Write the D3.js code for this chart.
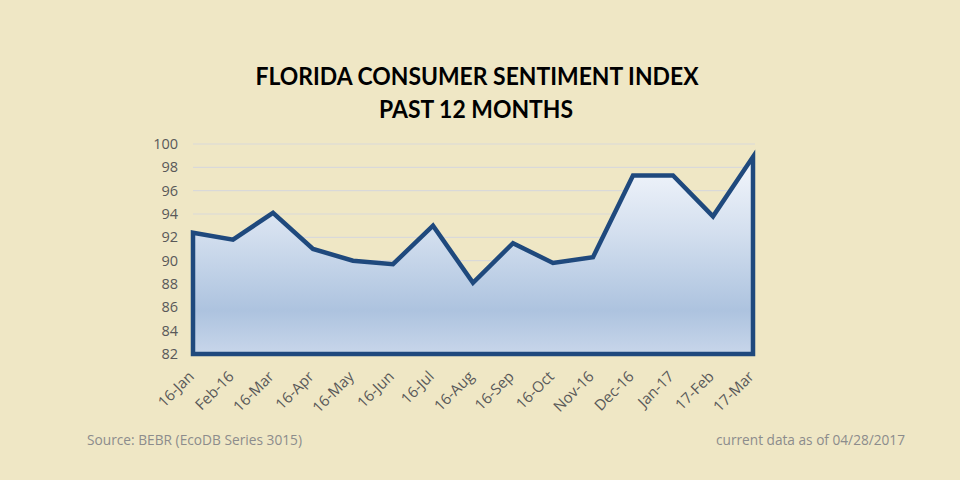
<!DOCTYPE html>
<html>
<head>
<meta charset="utf-8">
<script src="https://cdn.jsdelivr.net/npm/d3@7"></script>
<style>
html,body{margin:0;padding:0;background:#EFE7C5;}
svg{display:block;}
</style>
</head>
<body>
<svg id="chart" width="960" height="480"></svg>
<script>
const months = ["16-Jan","Feb-16","16-Mar","16-Apr","16-May","16-Jun","16-Jul","16-Aug","16-Sep","16-Oct","Nov-16","Dec-16","Jan-17","17-Feb","17-Mar"];
const sentiment = [92.4, 91.8, 94.1, 91.0, 90.0, 89.7, 93.0, 88.1, 91.5, 89.8, 90.3, 97.3, 97.3, 93.8, 98.9];
const yTicks = [82, 84, 86, 88, 90, 92, 94, 96, 98, 100];
const titleLines = ["FLORIDA CONSUMER SENTIMENT INDEX", "PAST 12 MONTHS"];
const sourceText = "Source: BEBR (EcoDB Series 3015)";
const asOfText = "current data as of 04/28/2017";

const svg = d3.select("#chart");
const W = 960, H = 480;
svg.append("rect").attr("width", W).attr("height", H).attr("fill", "#EFE7C5");

const x = d3.scalePoint().domain(months).range([193, 753]);
const y = d3.scaleLinear().domain([82, 100]).range([354, 144]);

// gradient
const defs = svg.append("defs");
const grad = defs.append("linearGradient").attr("id", "areaGrad")
  .attr("x1", 0).attr("y1", 0).attr("x2", 0).attr("y2", 1);
grad.append("stop").attr("offset", "0%").attr("stop-color", "#F4F7FC");
grad.append("stop").attr("offset", "40%").attr("stop-color", "#D2DEEE");
grad.append("stop").attr("offset", "78%").attr("stop-color", "#ADC3DF");
grad.append("stop").attr("offset", "100%").attr("stop-color", "#C8D6EA");

// gridlines
svg.append("g").selectAll("line").data(yTicks.filter(d => d > 82)).join("line")
  .attr("x1", 193).attr("x2", 755)
  .attr("y1", d => y(d)).attr("y2", d => y(d))
  .attr("stroke", "#D9D9D9").attr("stroke-width", 1.2);

// y axis
const yAxis = d3.axisLeft(y).tickValues(yTicks).tickSize(0).tickPadding(0).tickFormat(d3.format("d"));
const yg = svg.append("g").attr("transform", "translate(178,0)").call(yAxis);
yg.select(".domain").remove();
yg.selectAll("text").attr("font-family", "'Open Sans', sans-serif").attr("font-size", 14.5)
  .attr("fill", "#595959");

// area
const area = d3.area().x((d, i) => x(months[i])).y0(y(82)).y1(d => y(d));
svg.append("path").datum(sentiment)
  .attr("d", area)
  .attr("fill", "url(#areaGrad)")
  .attr("stroke", "#1F497D").attr("stroke-width", 4.5).attr("stroke-linejoin", "miter");

// x axis labels
const xAxis = d3.axisBottom(x).tickSize(0).tickPadding(0);
const xg = svg.append("g").attr("transform", "translate(0,360)").call(xAxis);
xg.select(".domain").remove();
xg.selectAll("text")
  .attr("font-family", "'Open Sans', sans-serif").attr("font-size", 15)
  .attr("fill", "#595959")
  .attr("text-anchor", "end")
  .attr("dy", "0.7em")
  .attr("transform", "translate(-6,10) rotate(-45)");

// title
const title = svg.append("g").attr("font-family", "Lato, 'Open Sans', sans-serif")
  .attr("font-weight", "bold").attr("font-size", 25).attr("fill", "#000").attr("text-anchor", "middle");
title.append("text").attr("x", 477).attr("y", 85).text(titleLines[0])
  .attr("textLength", 443).attr("lengthAdjust", "spacingAndGlyphs");
title.append("text").attr("x", 476).attr("y", 118).text(titleLines[1])
  .attr("textLength", 194).attr("lengthAdjust", "spacingAndGlyphs");

// footer
svg.append("text").attr("x", 87).attr("y", 445).text(sourceText)
  .attr("font-family", "'Open Sans', sans-serif").attr("font-size", 14).attr("fill", "#8C8C8C")
  .attr("textLength", 215).attr("lengthAdjust", "spacingAndGlyphs");
svg.append("text").attr("x", 905).attr("y", 445).attr("text-anchor", "end").text(asOfText)
  .attr("font-family", "'Open Sans', sans-serif").attr("font-size", 14).attr("fill", "#8C8C8C")
  .attr("textLength", 189).attr("lengthAdjust", "spacingAndGlyphs");
</script>
</body>
</html>
